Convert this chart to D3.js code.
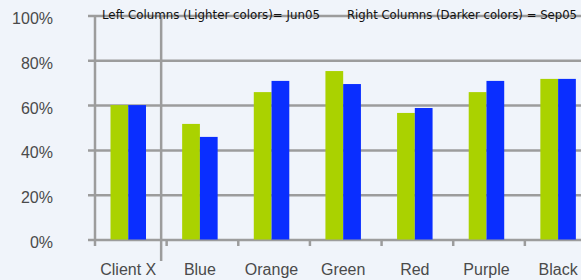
<!DOCTYPE html>
<html>
<head>
<meta charset="utf-8">
<script src="https://cdn.jsdelivr.net/npm/d3@7"></script>
<style>
  html, body { margin: 0; padding: 0; background: #f0f4fa; }
  svg { display: block; }
</style>
</head>
<body>
<div id="chart"></div>
<script>
// Data
const categories = ["Client X", "Blue", "Orange", "Green", "Red", "Purple", "Black"];
const seriesNames = ["Jun05", "Sep05"];
const jun05 = [60, 51.6, 65.8, 75.2, 56.5, 65.8, 71.7];
const sep05 = [60, 45.8, 70.8, 69.4, 58.7, 70.8, 71.7];
const yTicks = [0, 20, 40, 60, 80, 100];
const legendLabels = ["Left Columns (Lighter colors)= Jun05", "Right Columns (Darker colors) = Sep05"];

function createBarChart(containerId) {
    const width = 581;
    const height = 280;
    const colors = { Jun05: "#aad200", Sep05: "#0a2eff" };
    const gridColor = "#9c9c9c";

    const svg = d3.select("#" + containerId)
        .append("svg")
        .attr("width", width)
        .attr("height", height);

    // Scales
    const y = d3.scaleLinear().domain([0, 100]).range([239.5, 15.5]);
    const x0 = d3.scaleBand().domain(categories).range([95, 596.5]).paddingInner(0);
    const x1 = d3.scaleBand().domain(seriesNames).range([15.5, 51]);

    const rows = categories.map((c, i) => ({ cat: c, Jun05: jun05[i], Sep05: sep05[i] }));

    // Gridlines + y labels
    const yAxis = svg.append("g")
        .attr("transform", "translate(88,0)")
        .call(d3.axisLeft(y)
            .tickValues(yTicks)
            .tickSize(-(width - 88))
            .tickPadding(35)
            .tickFormat(d => d + "%"));
    yAxis.select(".domain").remove();
    yAxis.selectAll("line")
        .attr("stroke", gridColor)
        .attr("stroke-width", 2.5);
    yAxis.selectAll("text")
        .attr("dy", 8)
        .attr("fill", "#4a4a4a")
        .style("font-family", "'Liberation Sans', Arial, sans-serif")
        .style("font-size", "16px");

    // Category ticks below the baseline
    svg.append("g")
        .selectAll("line")
        .data(categories.slice(1))
        .enter()
        .append("line")
        .attr("x1", d => x0(d))
        .attr("x2", d => x0(d))
        .attr("y1", y(0))
        .attr("y2", y(0) + 6.5)
        .attr("stroke", gridColor)
        .attr("stroke-width", 2.5);

    // Bars
    const groups = svg.append("g")
        .selectAll("g")
        .data(rows)
        .enter()
        .append("g")
        .attr("transform", d => `translate(${x0(d.cat)},0)`);

    groups.selectAll("rect")
        .data(d => seriesNames.map(s => ({ s: s, v: d[s] })))
        .enter()
        .append("rect")
        .attr("x", d => x1(d.s))
        .attr("width", x1.bandwidth())
        .attr("y", d => y(d.v))
        .attr("height", d => y(0) - y(d.v))
        .attr("fill", d => colors[d.s]);

    // Vertical axis and the separator after Client X
    svg.append("line")
        .attr("x1", x0(categories[0]))
        .attr("x2", x0(categories[0]))
        .attr("y1", y(100))
        .attr("y2", y(0) + 6.5)
        .attr("stroke", gridColor)
        .attr("stroke-width", 2.5);

    svg.append("line")
        .attr("x1", x0(categories[1]) - 5.5)
        .attr("x2", x0(categories[1]) - 5.5)
        .attr("y1", y(100))
        .attr("y2", 261)
        .attr("stroke", gridColor)
        .attr("stroke-width", 2.5);

    // Category labels
    svg.append("g")
        .selectAll("text")
        .data(categories)
        .enter()
        .append("text")
        .attr("x", d => x0(d) + (x1.range()[0] + x1.range()[1]) / 2)
        .attr("y", 275)
        .attr("text-anchor", "middle")
        .attr("fill", "#4a4a4a")
        .style("font-family", "'Liberation Sans', Arial, sans-serif")
        .style("font-size", "16px")
        .text(d => d);

    // Legend notes at the top
    svg.append("text")
        .attr("x", 102)
        .attr("y", 18.5)
        .attr("textLength", 218)
        .attr("lengthAdjust", "spacingAndGlyphs")
        .style("font-family", "'DejaVu Sans', Tahoma, sans-serif")
        .style("font-size", "12.5px")
        .attr("fill", "#111")
        .text(legendLabels[0]);

    svg.append("text")
        .attr("x", 347)
        .attr("y", 18.5)
        .attr("textLength", 230)
        .attr("lengthAdjust", "spacingAndGlyphs")
        .style("font-family", "'DejaVu Sans', Tahoma, sans-serif")
        .style("font-size", "12.5px")
        .attr("fill", "#111")
        .text(legendLabels[1]);
}

createBarChart("chart");
</script>
</body>
</html>
